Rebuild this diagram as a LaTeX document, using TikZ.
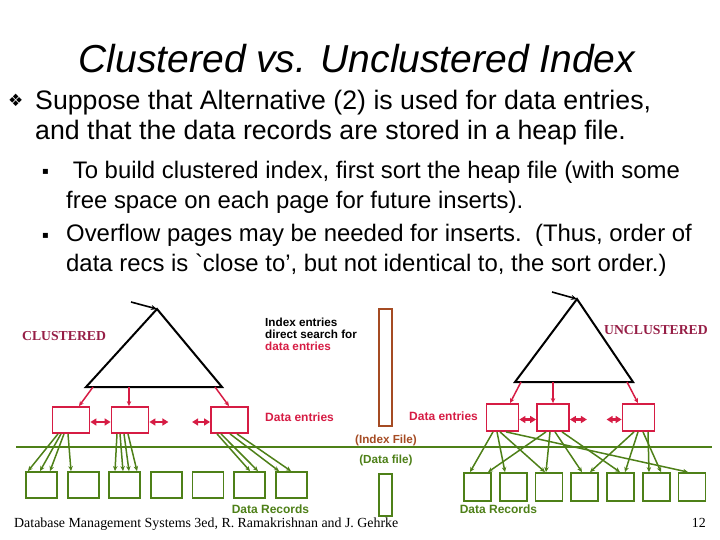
\documentclass[tikz,border=0pt]{standalone}
\usepackage{fontspec}
\setmainfont{Liberation Sans}
\newfontfamily\tnr{Liberation Serif}
\newfontfamily\djv{DejaVu Sans}
\usetikzlibrary{arrows.meta}
\definecolor{crim}{RGB}{214,28,68}
\definecolor{wine}{RGB}{150,30,70}
\definecolor{olive}{RGB}{78,128,24}
\definecolor{rust}{RGB}{165,75,35}
\begin{document}
\begin{tikzpicture}[x=1pt,y=-1pt,
  txt/.style={inner sep=0pt, anchor=base west},
  redbox/.style={draw=crim, line width=1.8pt, minimum width=37pt, minimum height=26pt, inner sep=0pt},
  redboxR/.style={redbox, minimum width=32pt, minimum height=27pt},
  recL/.style={draw=olive, line width=1.8pt, minimum width=31pt, minimum height=26pt, inner sep=0pt},
  recR/.style={draw=olive, line width=1.8pt, minimum width=27pt, minimum height=28pt, inner sep=0pt},
  tri/.style={draw=black, line width=2pt, line join=miter},
  barr/.style={black, line width=1.6pt, -{Stealth[length=6pt,width=5pt]}},
  rarr/.style={crim, line width=1.5pt, -{Stealth[length=5pt,width=4.5pt]}},
  rdarr/.style={crim, line width=2.2pt, {Triangle[length=6pt,width=7pt]}-{Triangle[length=6pt,width=7pt]}},
  garr/.style={olive, line width=1.5pt, -{Stealth[length=5pt,width=4.5pt]}},
  lbl/.style={inner sep=0pt, font=\fontsize{11.7}{12}\selectfont\bfseries}
]
\useasboundingbox (0,0) rectangle (720,540);

% ---- title and bullets
\node[inner sep=0pt, anchor=base] (title) at (357,73) {\fontsize{39}{40}\selectfont\itshape Clustered vs. Unclustered Index};
\node[txt] (bu0) at (8,107) {\djv\fontsize{17}{17}\selectfont ❖};
\node[txt] (l1) at (35,109.5) {\fontsize{26.7}{30}\selectfont Suppose that Alternative (2) is used for data entries,};
\node[txt] (l2) at (35,139.5) {\fontsize{26.7}{30}\selectfont and that the data records are stored in a heap file.};
\node[txt] (bu1) at (42,175) {\djv\fontsize{10}{10}\selectfont ▪};
\node[txt] (s1) at (66,178.5) {\fontsize{23.9}{30}\selectfont \ To build clustered index, first sort the heap file (with some};
\node[txt] (s2) at (66,208.5) {\fontsize{23.9}{30}\selectfont free space on each page for future inserts).};
\node[txt] (bu2) at (42,238) {\djv\fontsize{10}{10}\selectfont ▪};
\node[txt] (s3) at (66,241.5) {\fontsize{23.9}{30}\selectfont Overflow pages may be needed for inserts.\ \ (Thus, order of};
\node[txt] (s4) at (66,271.5) {\fontsize{23.9}{30}\selectfont data recs is \textasciigrave close to’, but not identical to, the sort order.)};

% ---- triangles
\coordinate (Lapex) at (157,309);
\coordinate (Lbl) at (86,387);
\coordinate (Lbr) at (222,387);
\coordinate (Lin) at (131,302);
\coordinate (Rapex) at (577,299);
\coordinate (Rbl) at (515,382);
\coordinate (Rbr) at (633,382);
\coordinate (Rin) at (552,292);
\draw[tri] (Lapex) -- (Lbl) -- (Lbr) -- cycle;
\draw[tri] (Rapex) -- (Rbl) -- (Rbr) -- cycle;
\draw[barr] (Lin) -- (Lapex);
\draw[barr] (Rin) -- (Rapex);

% ---- data entry boxes
\node[redbox] (b1) at (71,420) {};
\node[redbox] (b2) at (130,420) {};
\node[redbox] (b3) at (229.5,420) {};
\node[redboxR] (bA) at (502.5,417.5) {};
\node[redboxR] (bB) at (553,417.5) {};
\node[redboxR] (bC) at (638.5,417.5) {};

% ---- red arrows from index to data entries
\draw[rarr] (93,0 |- Lbl) -- (79,0 |- b1.north);
\draw[rarr] (129,0 |- Lbl) -- (129,0 |- b2.north);
\draw[rarr] (215,0 |- Lbl) -- (229,0 |- b3.north);
\draw[rarr] (521,0 |- Rbl) -- (510,0 |- bA.north);
\draw[rarr] (553,0 |- Rbl) -- (553,0 |- bB.north);
\draw[rarr] (627,0 |- Rbl) -- (638,0 |- bC.north);

% ---- sibling pointers
\draw[rdarr] ([yshift=-2pt]b1.east) -- ([yshift=-2pt]b2.west);
\draw[rdarr] ([yshift=-2pt]b2.east) -- ++(19,0) coordinate (b2r);
\draw[rdarr] ([yshift=-2pt]b3.west) -- ++(-18,0) coordinate (b3l);
\draw[rdarr] ([yshift=-2pt]bA.east) -- ([yshift=-2pt]bB.west);
\draw[rdarr] ([yshift=-2pt]bB.east) -- ++(17,0) coordinate (bBr);
\draw[rdarr] ([yshift=-2pt]bC.west) -- ++(-15,0) coordinate (bCl);

% ---- file separator
\coordinate (sepL) at (16,447);
\coordinate (sepR) at (712,447);
\draw[olive, line width=1.6pt] (sepL) -- (sepR);

% ---- index file / data file bars
\node[draw=rust, line width=1.6pt, minimum width=13pt, minimum height=117pt, inner sep=0pt] (ibar) at (385.5,367.5) {};
\node[draw=olive, line width=1.6pt, minimum width=13pt, minimum height=42pt, inner sep=0pt] (dbar) at (385.5,495) {};

% ---- data records
\foreach \i in {1,...,7} {
  \node[recL] (L\i) at ({41.5+41.6*(\i-1)},485) {};
  \node[recR] (R\i) at ({477.5+35.75*(\i-1)},487) {};
}

% ---- clustered pointers
\foreach \sx/\tx/\t in {58/28/L1, 61/40/L1, 64/50/L1, 68/71/L2}
  \draw[garr] (\sx,0 |- b1.south) -- (\tx,0 |- \t.north);
\foreach \sx/\tx/\t in {117/115/L3, 120/123/L3, 124/129/L3, 128/137/L3}
  \draw[garr] (\sx,0 |- b2.south) -- (\tx,0 |- \t.north);
\foreach \sx/\tx/\t in {217/250/L6, 221/258/L6, 230/279/L7, 237/291/L7}
  \draw[garr] (\sx,0 |- b3.south) -- (\tx,0 |- \t.north);

% ---- unclustered pointers
\foreach \sx/\tx/\t in {493/470/R1, 497/505/R2, 500/545/R3, 506/688/R7}
  \draw[garr] (\sx,0 |- bA.south) -- (\tx,0 |- \t.north);
\foreach \sx/\tx/\t in {546/488/R1, 550/546/R3, 555/582/R4, 562/620/R5}
  \draw[garr] (\sx,0 |- bB.south) -- (\tx,0 |- \t.north);
\foreach \sx/\tx/\t in {634/590/R4, 638/625/R5, 648/649/R6, 643/661/R6}
  \draw[garr] (\sx,0 |- bC.south) -- (\tx,0 |- \t.north);

% ---- labels
\node[inner sep=0pt, anchor=west, text=wine] (clu) at (22,336) {\tnr\bfseries\fontsize{13.7}{14}\selectfont CLUSTERED};
\node[inner sep=0pt, anchor=west, text=wine] (unclu) at (604,330) {\tnr\bfseries\fontsize{13.7}{14}\selectfont UNCLUSTERED};
\node[lbl, anchor=north west, align=left] (ie) at (265,317.5) {Index entries\\direct search for\\\textcolor{crim}{data entries}};
\node[lbl, anchor=west, text=crim, font=\fontsize{12}{12}\selectfont\bfseries] (deL) at (265,417) {Data entries};
\node[lbl, anchor=west, text=crim, font=\fontsize{12}{12}\selectfont\bfseries] (deR) at (409,416) {Data entries};
\node[lbl, text=rust] (ifile) at (386,440) {(Index File)};
\node[lbl, text=olive] (dfile) at (386,460) {(Data file)};
\node[lbl, text=olive, font=\fontsize{12}{12}\selectfont\bfseries] (drL) at (270.5,509) {Data Records};
\node[lbl, text=olive, font=\fontsize{12}{12}\selectfont\bfseries] (drR) at (498.5,509) {Data Records};

% ---- footer
\node[inner sep=0pt, anchor=base west] (foot) at (14,527.5) {\tnr\fontsize{13.9}{14}\selectfont Database Management Systems 3ed, R. Ramakrishnan and J. Gehrke};
\node[inner sep=0pt, anchor=base east] (pg) at (706,527.5) {\tnr\fontsize{13.9}{14}\selectfont 12};
\end{tikzpicture}
\end{document}
